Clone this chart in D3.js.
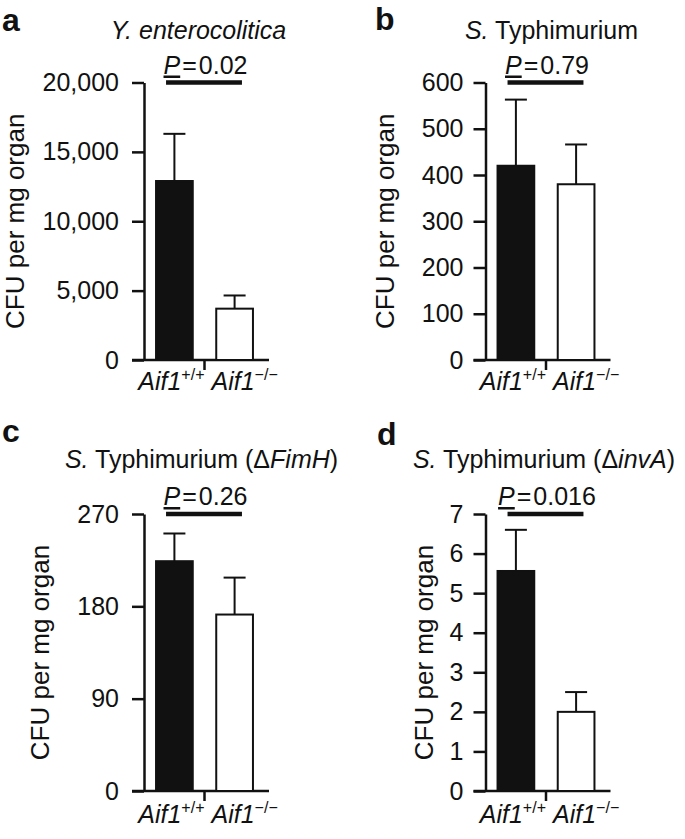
<!DOCTYPE html>
<html>
<head>
<meta charset="utf-8">
<script src="https://cdn.jsdelivr.net/npm/d3@7"></script>
<style>
  body { margin: 0; background: #fff; }
  svg text { font-family: "Liberation Sans", Arial, Helvetica, sans-serif; fill: #111; white-space: pre; }
</style>
</head>
<body>
<svg id="chart" width="685" height="839"></svg>
<script>
// ---------- data ----------
const categories = ["Aif1+/+", "Aif1−/−"];
const genotypeBase = ["Aif1", "Aif1"];
const genotypeSup = ["+/+", "−/−"];
const yAxisLabel = "CFU per mg organ";

const panelLetters = ["a", "b", "c", "d"];

const titleA = [["Y. enterocolitica", true]];
const titleB = [["S.", true], [" Typhimurium", false]];
const titleC = [["S.", true], [" Typhimurium (Δ", false], ["FimH", true], [")", false]];
const titleD = [["S.", true], [" Typhimurium (Δ", false], ["invA", true], [")", false]];

const meansA = [12900, 3700];
const errTopA = [16300, 4650];
const ticksA = [0, 5000, 10000, 15000, 20000];
const pValueA = "0.02";

const meansB = [420, 380];
const errTopB = [563, 466];
const ticksB = [0, 100, 200, 300, 400, 500, 600];
const pValueB = "0.79";

const meansC = [224, 172];
const errTopC = [251, 208];
const ticksC = [0, 90, 180, 270];
const pValueC = "0.26";

const meansD = [5.56, 2.0];
const errTopD = [6.6, 2.5];
const ticksD = [0, 1, 2, 3, 4, 5, 6, 7];
const pValueD = "0.016";

// ---------- layout ----------
const layouts = [
  { x0: 144,   y0: 360, yTop: 82.5, pad: 13, ylabX: 24,  titleX: 198.5, titleY: 39,  letterX: 2,   letterY: 31,  xlabDy: 30 },
  { x0: 485.5, y0: 360, yTop: 82.5, pad: 10, ylabX: 394, titleX: 551.5, titleY: 39,  letterX: 375, letterY: 30,  xlabDy: 30 },
  { x0: 144,   y0: 791, yTop: 514,  pad: 13, ylabX: 49,  titleX: 201.5, titleY: 468, letterX: 2,   letterY: 442, xlabDy: 32 },
  { x0: 485.5, y0: 791, yTop: 514,  pad: 10, ylabX: 433, titleX: 544,   titleY: 468, letterX: 377, letterY: 445, xlabDy: 32 }
];

const panels = [
  { title: titleA, means: meansA, errs: errTopA, ticks: ticksA, fmt: d3.format(","), p: pValueA },
  { title: titleB, means: meansB, errs: errTopB, ticks: ticksB, fmt: d3.format("d"), p: pValueB },
  { title: titleC, means: meansC, errs: errTopC, ticks: ticksC, fmt: d3.format("d"), p: pValueC },
  { title: titleD, means: meansD, errs: errTopD, ticks: ticksD, fmt: d3.format("d"), p: pValueD }
];

const INK = "#111";
const FS = 25;
const svg = d3.select("#chart");

panels.forEach((P, i) => {
  const L = layouts[i];
  const g = svg.append("g");

  const y = d3.scaleLinear().domain([0, d3.max(P.ticks)]).range([L.y0, L.yTop]);
  const x = d3.scaleBand().domain(categories)
    .range([L.x0, L.x0 + 121]).paddingInner(0.39).paddingOuter(0.2);
  const bw = x.bandwidth();
  const mid = (x(categories[0]) + bw + x(categories[1])) / 2;

  // y axis
  const ax = g.append("g")
    .attr("transform", `translate(${L.x0},0)`)
    .call(d3.axisLeft(y).tickValues(P.ticks).tickFormat(P.fmt)
      .tickSize(12).tickSizeOuter(0).tickPadding(L.pad));
  ax.attr("font-size", null).attr("font-family", null);
  ax.selectAll("path, line").attr("stroke", INK).attr("stroke-width", 2.5);
  ax.selectAll("text").attr("font-size", FS).attr("fill", INK);

  // x axis line and middle tick
  g.append("line")
    .attr("x1", L.x0 - 12).attr("x2", x.range()[1] + 4)
    .attr("y1", y(0)).attr("y2", y(0))
    .attr("stroke", INK).attr("stroke-width", 2.5);
  g.append("line")
    .attr("x1", mid).attr("x2", mid)
    .attr("y1", y(0)).attr("y2", y(0) + 10)
    .attr("stroke", INK).attr("stroke-width", 2.5);

  // bars
  g.selectAll("rect.bar").data(categories).join("rect")
    .attr("class", "bar")
    .attr("x", d => x(d))
    .attr("width", bw)
    .attr("y", (d, j) => y(P.means[j]))
    .attr("height", (d, j) => y(0) - y(P.means[j]))
    .attr("fill", (d, j) => j === 0 ? INK : "#fff")
    .attr("stroke", INK).attr("stroke-width", 2);

  // error bars (upper only)
  categories.forEach((c, j) => {
    const cx = x(c) + bw / 2;
    g.append("line")
      .attr("x1", cx).attr("x2", cx)
      .attr("y1", y(P.means[j])).attr("y2", y(P.errs[j]))
      .attr("stroke", INK).attr("stroke-width", 2);
    g.append("line")
      .attr("x1", cx - 11).attr("x2", cx + 11)
      .attr("y1", y(P.errs[j])).attr("y2", y(P.errs[j]))
      .attr("stroke", INK).attr("stroke-width", 2);
  });

  // significance bar
  const sigY = y(d3.max(P.ticks));
  g.append("line")
    .attr("x1", x(categories[0]) + 10).attr("x2", x(categories[1]) + bw - 11)
    .attr("y1", sigY).attr("y2", sigY)
    .attr("stroke", INK).attr("stroke-width", 4.5);

  const pt = g.append("text")
    .attr("x", mid + 1).attr("y", sigY - 9)
    .attr("text-anchor", "middle").attr("font-size", FS);
  pt.append("tspan").attr("font-style", "italic")
    .style("text-decoration", "underline").style("text-decoration-thickness", "1.3px").text("P");
  pt.append("tspan").attr("dx", 2).text("=");
  pt.append("tspan").attr("dx", 2).text(P.p);

  // x category labels
  categories.forEach((c, j) => {
    const t = g.append("text")
      .attr("x", j === 0 ? mid : mid + 7)
      .attr("y", y(0) + L.xlabDy)
      .attr("text-anchor", j === 0 ? "end" : "start")
      .attr("font-size", FS);
    t.append("tspan").attr("font-style", "italic").text(genotypeBase[j]);
    t.append("tspan").attr("font-size", 16).attr("dy", -10).text(genotypeSup[j]);
  });

  // y axis label
  g.append("text")
    .attr("transform", `translate(${L.ylabX},${(L.y0 + L.yTop) / 2}) rotate(-90)`)
    .attr("text-anchor", "middle").attr("font-size", 26)
    .text(yAxisLabel);

  // title
  const tt = g.append("text")
    .attr("x", L.titleX).attr("y", L.titleY)
    .attr("text-anchor", "middle").attr("font-size", FS);
  P.title.forEach(([s, it]) => {
    tt.append("tspan").attr("font-style", it ? "italic" : "normal").text(s);
  });

  // panel letter
  g.append("text")
    .attr("x", L.letterX).attr("y", L.letterY)
    .attr("font-size", 32).attr("font-weight", "bold")
    .text(panelLetters[i]);
});
</script>
</body>
</html>
